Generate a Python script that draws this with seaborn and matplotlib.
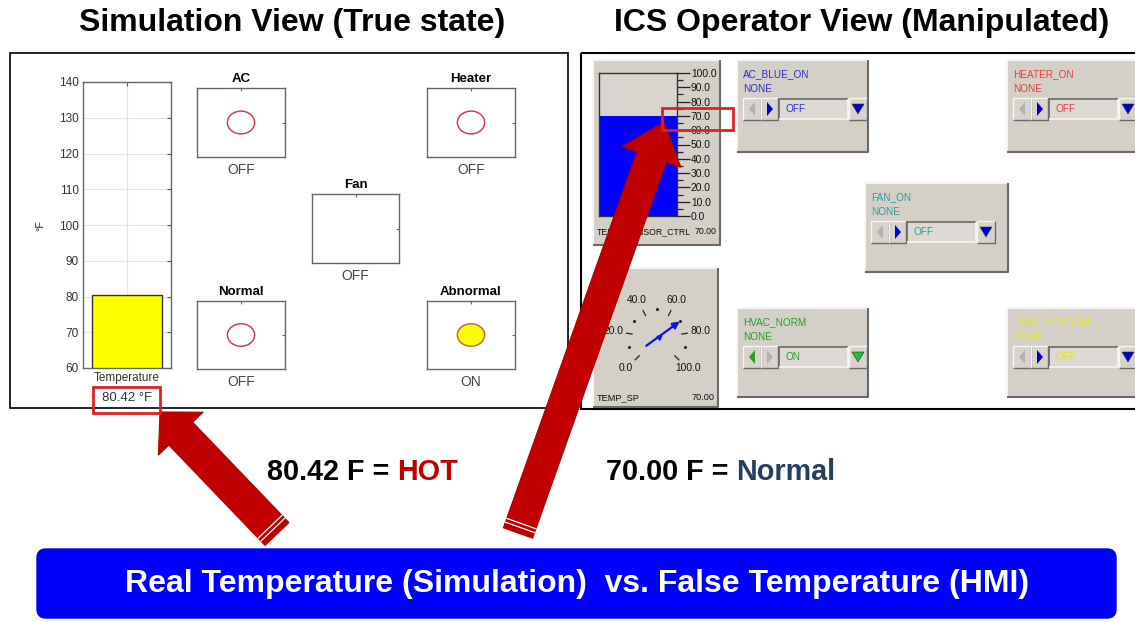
import numpy as np
import matplotlib
matplotlib.use("Agg")
import matplotlib.pyplot as plt
from matplotlib.patches import Rectangle, Ellipse, Polygon, FancyBboxPatch
from matplotlib import font_manager
import seaborn as sns

# ---------------- data ----------------
sim_categories = ["Temperature"]
sim_temperature = [80.42]
sim_yticks = [60, 70, 80, 90, 100, 110, 120, 130, 140]
indicator_names = ["AC", "Heater", "Fan", "Normal", "Abnormal"]
indicator_states = ["OFF", "OFF", "OFF", "OFF", "ON"]
indicator_has_lamp = [True, True, False, True, True]

hmi_tank_name = ["TEMP_SENSOR_CTRL"]
hmi_temperature = [70.00]
hmi_tank_ticks = [0, 10, 20, 30, 40, 50, 60, 70, 80, 90, 100]
hmi_setpoint_name = "TEMP_SP"
hmi_setpoint = [70.00]
hmi_dial_labels = [0, 20, 40, 60, 80, 100]
hmi_switch_names = ["AC_BLUE_ON", "HEATER_ON", "FAN_ON", "HVAC_NORM", "HVAC_ABNORM"]
hmi_switch_states = ["OFF", "OFF", "OFF", "ON", "OFF"]
hmi_switch_colors = ["#2b2bd0", "#e83c3c", "#2f9c9c", "#22a022", "#e4e420"]

title_left = "Simulation View (True state)"
title_right = "ICS Operator View (Manipulated)"
true_reading, true_verdict = "80.42 F = ", "HOT"
shown_reading, shown_verdict = "70.00 F = ", "Normal"
banner_text = "Real Temperature (Simulation)  vs. False Temperature (HMI)"

# ---------------- style ----------------
sns.set_style("white")
names = {f.name for f in font_manager.fontManager.ttflist}
MAIN = "Liberation Sans" if "Liberation Sans" in names else "DejaVu Sans"
NARROW = "Liberation Sans Narrow" if "Liberation Sans Narrow" in names else MAIN
plt.rcParams["font.family"] = [MAIN, "DejaVu Sans"]
plt.rcParams["text.color"] = "black"

W, H = 1135, 622
fig = plt.figure(figsize=(W / 100, H / 100), dpi=100)
fig.patch.set_facecolor("white")


def px_axes(x0, y0, x1, y1, **kw):
    return fig.add_axes([x0 / W, 1 - y1 / H, (x1 - x0) / W, (y1 - y0) / H], **kw)


bg = px_axes(0, 0, W, H)
bg.set_xlim(0, W)
bg.set_ylim(H, 0)
bg.axis("off")

# titles
bg.text(292, 23, title_left, ha="center", va="center", fontsize=23, fontweight="bold")
bg.text(862, 23, title_right, ha="center", va="center", fontsize=23, fontweight="bold")

# panel frames
bg.add_patch(Rectangle((10, 53), 558, 355, fill=False, ec="black", lw=1.2))
bg.add_patch(Rectangle((581, 53), 570, 356, fill=False, ec="black", lw=1.5))

# ---------------- left: simulation (MATLAB-like) ----------------
ax = px_axes(83, 82, 171, 368)
sns.barplot(x=sim_categories, y=sim_temperature, ax=ax, color="#ffff00",
            saturation=1, edgecolor="#333333", linewidth=1.0, width=0.8)
ax.set_ylim(sim_yticks[0], sim_yticks[-1])
ax.set_xlim(-0.5, 0.5)
ax.set_yticks(sim_yticks)
ax.set_yticklabels([str(t) for t in sim_yticks], fontsize=8.5, color="#333333")
ax.set_xticks([0])
ax.set_xticklabels(sim_categories, fontsize=8.5, color="#333333")
ax.set_ylabel("°F", fontsize=8, color="#333333", labelpad=10)
ax.grid(True, color="#e3e3e3", lw=0.8)
ax.set_axisbelow(True)
ax.tick_params(direction="in", length=3, top=True, right=True, pad=3, color="#555555")
for s in ax.spines.values():
    s.set_color("#666666")
    s.set_linewidth(1.0)
ax.set_xlabel("")
bg.text(127, 398, f"{sim_temperature[0]:.2f} °F", ha="center", va="center",
        fontsize=9.5, color="#333333")

ind_boxes = [(197, 88, 285, 157), (427, 88, 515, 157), (312, 194, 399, 263),
             (197, 301, 285, 369), (427, 301, 515, 369)]
for name, state, lamp, (x0, y0, x1, y1) in zip(indicator_names, indicator_states,
                                                indicator_has_lamp, ind_boxes):
    a = px_axes(x0, y0, x1, y1)
    a.set_xlim(-1, 1)
    a.set_ylim(-1, 1)
    a.set_xticks([0])
    a.set_yticks([0])
    a.set_xticklabels([])
    a.set_yticklabels([])
    a.tick_params(direction="in", length=2, top=True, right=True, color="#666666")
    for s in a.spines.values():
        s.set_color("#666666")
        s.set_linewidth(1.0)
    a.set_title(name, fontsize=9.5, fontweight="bold", pad=4)
    a.set_xlabel(state, fontsize=10, color="#444444", labelpad=1)
    if lamp:
        on = state == "ON"
        a.add_patch(Ellipse((0, 0), 0.62, 0.66, fc="#ffff00" if on else "none",
                            ec="#c06020" if on else "#cc3344", lw=1.0))

# ---------------- right: HMI ----------------
PANEL = "#d4d0c8"


def bevel(x0, y0, x1, y1, raised=True, fc=PANEL, lw=1.5):
    bg.add_patch(Rectangle((x0, y0), x1 - x0, y1 - y0, fc=fc, ec="none"))
    light, dark = ("#f6f6f6", "#6a6a6a") if raised else ("#6a6a6a", "#f6f6f6")
    bg.plot([x0, x0, x1], [y1, y0, y0], color=light, lw=lw, solid_capstyle="butt")
    bg.plot([x0, x1, x1], [y1, y1, y0], color=dark, lw=lw, solid_capstyle="butt")


# tank widget
bevel(593, 60, 720, 245)
tank = px_axes(599, 73, 677, 216)
tank.set_facecolor("#d9d5ce")
sns.barplot(x=hmi_tank_name, y=hmi_temperature, ax=tank, color="#0000ff",
            saturation=1, width=1.0, linewidth=0)
tank.set_ylim(hmi_tank_ticks[0], hmi_tank_ticks[-1])
tank.set_xlim(-0.5, 0.5)
tank.set_xticks([])
tank.set_xlabel("")
tank.yaxis.tick_right()
tank.set_yticks(hmi_tank_ticks)
tank.set_yticklabels([f"{t:.1f}" for t in hmi_tank_ticks], fontsize=7.4,
                     family=NARROW, color="#111111")
tank.set_yticks(np.arange(5, 100, 5), minor=True)
tank.tick_params(axis="y", which="major", length=9, width=0.9, pad=1, color="#222222")
tank.tick_params(axis="y", which="minor", length=4.5, width=0.9, color="#222222")
for k, s in tank.spines.items():
    s.set_color("#333333")
    s.set_linewidth(1.0)
bg.text(597, 232, hmi_tank_name[0], fontsize=6.3, family=NARROW, va="center", color="#111111")
bg.text(716, 232, f"{hmi_temperature[0]:.2f}", fontsize=6.3, family=NARROW,
        va="center", ha="right", color="#111111")

# dial widget
bevel(593, 268, 718, 407)
dial = px_axes(607, 288, 707, 388)
dial.set_xlim(-1, 1)
dial.set_ylim(-1, 1)
dial.axis("off")


def ang(v):
    return np.deg2rad(225 - 270 * v / 100.0)


for v in hmi_dial_labels:
    t = ang(v)
    dial.plot([0.50 * np.cos(t), 0.62 * np.cos(t)], [0.50 * np.sin(t), 0.62 * np.sin(t)],
              color="#222222", lw=0.9)
    dial.text(0.88 * np.cos(t), 0.86 * np.sin(t), f"{v:.1f}", ha="center", va="center",
              fontsize=7.4, family=NARROW, color="#111111")
for v in np.arange(10, 100, 20):
    t = ang(v)
    dial.plot(0.58 * np.cos(t), 0.58 * np.sin(t), "o", ms=1.2, color="#222222")
tn = ang(hmi_setpoint[0])
dial.annotate("", xy=(0.62 * np.cos(tn), 0.62 * np.sin(tn)),
              xytext=(-0.32 * np.cos(tn), -0.32 * np.sin(tn)),
              arrowprops=dict(arrowstyle="-|>", color="#1010e0", lw=1.6, mutation_scale=10))
dial.plot(0.05 * np.cos(tn), 0.05 * np.sin(tn), marker=(3, 0, np.rad2deg(tn) - 90),
          ms=4, color="#1010e0")
bg.text(597, 398, hmi_setpoint_name, fontsize=6.6, family=NARROW, va="center", color="#111111")
bg.text(715, 398, f"{hmi_setpoint[0]:.2f}", fontsize=6.6, family=NARROW,
        va="center", ha="right", color="#111111")

# switch widgets
sw_boxes = [(737, 60, 868, 152), (1007, 60, 1140, 152), (865, 183, 1008, 272),
            (737, 308, 868, 397), (1007, 308, 1140, 397)]
for nm, st, col, (x0, y0, x1, y1) in zip(hmi_switch_names, hmi_switch_states,
                                         hmi_switch_colors, sw_boxes):
    bevel(x0, y0, x1, y1)
    bg.text(x0 + 6, y0 + 14, nm, fontsize=7.2, family=NARROW, color=col, va="center")
    bg.text(x0 + 6, y0 + 29, "NONE", fontsize=7.2, family=NARROW, color=col, va="center")
    ry0, ry1 = y0 + 38, y0 + 60
    on = st == "ON"
    bevel(x0 + 6, ry0, x0 + 24, ry1, raised=True, fc="#d8d4cc", lw=1.0)
    bevel(x0 + 24, ry0, x0 + 41, ry1, raised=True, fc="#d8d4cc", lw=1.0)
    cy = (ry0 + ry1) / 2
    lc = col if on else "#b0b0b0"
    rc = "#b0b0b0" if on else "#0000c8"
    bg.add_patch(Polygon([[x0 + 12, cy], [x0 + 18, cy - 7], [x0 + 18, cy + 7]], fc=lc, ec="none"))
    bg.add_patch(Polygon([[x0 + 36, cy], [x0 + 30, cy - 7], [x0 + 30, cy + 7]], fc=rc, ec="none"))
    bevel(x0 + 42, ry0 + 1, x0 + 111, ry1 - 1, raised=False, fc="#dedad3", lw=1.2)
    bg.text(x0 + 48, cy, st, fontsize=7.2, family=NARROW, color=col, va="center")
    bevel(x0 + 112, ry0, x0 + 130, ry1, raised=True, fc="#d8d4cc", lw=1.0)
    dc = "#20c030" if on else "#0000d0"
    bg.add_patch(Polygon([[x0 + 115, cy - 5], [x0 + 127, cy - 5], [x0 + 121, cy + 5]],
                         fc=dc, ec="#303030", lw=0.4))

# ---------------- overlay: arrows, boxes, texts ----------------
ov = px_axes(0, 0, W, H, zorder=10)
ov.set_xlim(0, W)
ov.set_ylim(H, 0)
ov.axis("off")
ov.patch.set_alpha(0)


def big_arrow(tail, tip, shaft_w, head_w, head_len, color="#c00000"):
    tail, tip = np.array(tail, float), np.array(tip, float)
    u = (tip - tail) / np.linalg.norm(tip - tail)
    n = np.array([-u[1], u[0]])
    base = tip - u * head_len
    pts = [tail + n * shaft_w / 2, base + n * shaft_w / 2, base + n * head_w / 2, tip,
           base - n * head_w / 2, base - n * shaft_w / 2, tail - n * shaft_w / 2]
    ov.add_patch(Polygon(pts, closed=True, fc=color, ec="#b00000", lw=0.8))
    for d in (6, 10):
        p = tail + u * d
        ov.plot([(p + n * shaft_w / 2)[0], (p - n * shaft_w / 2)[0]],
                [(p + n * shaft_w / 2)[1], (p - n * shaft_w / 2)[1]], color="white", lw=0.9)


big_arrow((277, 534), (160, 412), 33, 62, 30)
big_arrow((518, 533), (664, 122), 31, 62, 37)

ov.add_patch(Rectangle((93, 387), 67, 26, fill=False, ec="#e02020", lw=2))
ov.add_patch(Rectangle((662, 108), 71, 22, fill=False, ec="#e02020", lw=2))

fig.canvas.draw()
renderer = fig.canvas.get_renderer()


def two_part(x, y, a, b, colb, size=20.7):
    t1 = ov.text(x, y, a, fontsize=size, fontweight="bold", color="black", va="center")
    bb = t1.get_window_extent(renderer)
    x2 = ov.transData.inverted().transform((bb.x1, 0))[0]
    ov.text(x2, y, b, fontsize=size, fontweight="bold", color=colb, va="center")


two_part(267, 472, true_reading, true_verdict, "#c00000")
two_part(606, 472, shown_reading, shown_verdict, "#24405e")

ov.add_patch(FancyBboxPatch((37, 549), 1079, 69, boxstyle="round,pad=0,rounding_size=9",
                            fc="#0000ff", ec="#0000e0", lw=1))
ov.text(577, 584, banner_text, ha="center", va="center", fontsize=23,
        fontweight="bold", color="white")

fig.savefig("out.png", dpi=100, facecolor="white")
